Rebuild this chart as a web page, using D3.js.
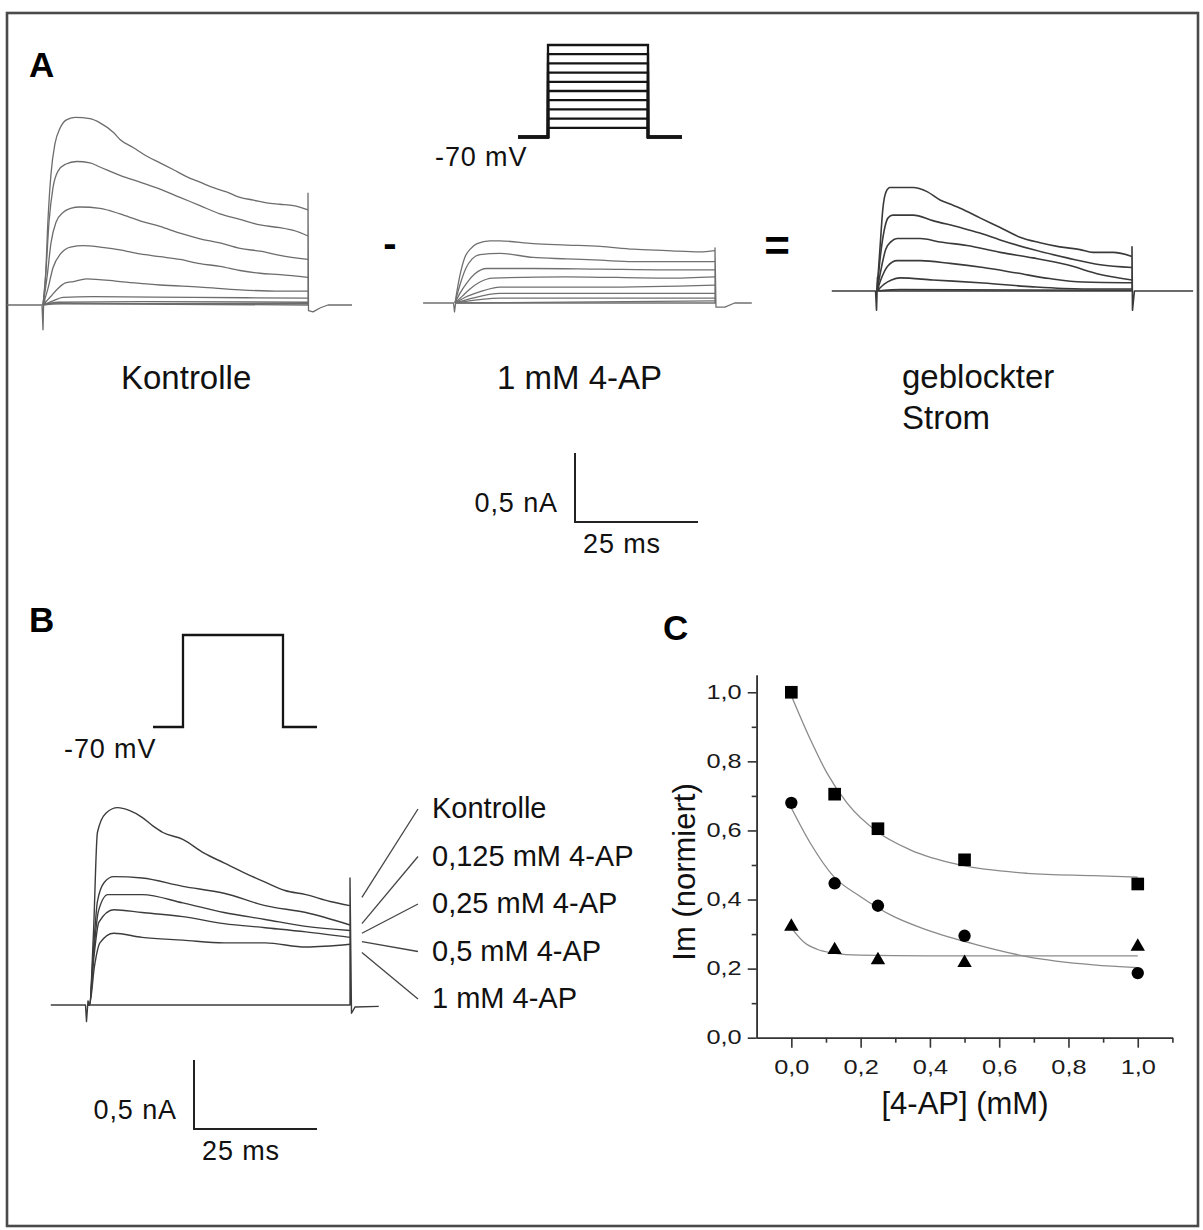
<!DOCTYPE html>
<html>
<head>
<meta charset="utf-8">
<script src="https://cdn.jsdelivr.net/npm/d3@7"></script>
<style>
    body { margin: 0; background: #fff; }
    text { font-family: 'Liberation Sans', Arial, Helvetica, sans-serif; }
</style>
</head>
<body>
<svg id="fig" width="1203" height="1230"></svg>
<script>
// Test pulse length and calibration (25 ms = 123 px, 0.5 nA = 69 px on the scale bars)
const PULSE = 53
const PX_MS = 4.92
const PX_NA = 138

// A, Kontrolle: current family, [ms, nA]
const ctrlA = [
    [[0,0],[0.5,0.2],[1,0.62],[1.6,0.95],[2.4,1.17],[3.4,1.28],[4.6,1.34],[6.4,1.36],[9.4,1.35],[11.4,1.32],[14.1,1.25],[15.4,1.2],[18.1,1.14],[20.7,1.08],[23.4,1.03],[26.1,0.98],[28.7,0.93],[31.4,0.89],[34.1,0.85],[36.7,0.82],[39.4,0.78],[42.1,0.76],[44.7,0.74],[47.4,0.73],[50.1,0.72],[53,0.69]],
    [[0,0],[0.6,0.25],[1.2,0.6],[2,0.85],[3,0.97],[4.5,1.02],[6.7,1.04],[9.4,1.03],[11.4,1.0],[15.4,0.94],[19.4,0.89],[23.4,0.84],[27.4,0.78],[31.4,0.72],[35.4,0.66],[39.4,0.62],[43.4,0.58],[47.4,0.56],[50.1,0.54],[53,0.5]],
    [[0,0],[0.8,0.2],[1.6,0.45],[2.6,0.6],[4,0.67],[5.5,0.7],[7.4,0.71],[11.4,0.7],[15.4,0.66],[19.4,0.61],[23.4,0.57],[27.4,0.52],[31.4,0.48],[35.4,0.45],[39.4,0.41],[43.4,0.39],[47.4,0.36],[53,0.33]],
    [[0,0],[1,0.12],[2,0.27],[3.5,0.37],[5.5,0.42],[8.1,0.43],[11.4,0.42],[15.4,0.4],[19.4,0.37],[23.4,0.35],[27.4,0.33],[31.4,0.3],[35.4,0.28],[39.4,0.25],[43.4,0.23],[47.4,0.22],[53,0.2]],
    [[0,0],[1.5,0.06],[3,0.12],[4.5,0.16],[6.1,0.17],[8.7,0.19],[15.4,0.17],[23.4,0.145],[31.4,0.13],[39.4,0.11],[47.4,0.1],[53,0.1]],
    [[0,0],[2,0.03],[4,0.055],[10,0.06],[30,0.055],[53,0.05]],
    [[0,0],[3,0.02],[20,0.025],[53,0.02]],
    [[0,0],[4,0.01],[53,0.01]]
]
const ctrlArtA = [[-7.2,0],[-0.2,0],[0,-0.18],[0.15,0.06],[0.5,0.01],[53,0],[53,0.81],[53.1,-0.04],[54,-0.05],[55.5,-0.02],[57,0],[61.8,0]]

// A, 1 mM 4-AP
const apA = [
    [[0,0],[1,0.2],[2,0.33],[3.1,0.39],[4.5,0.43],[7.1,0.45],[9.2,0.45],[15.9,0.43],[22.8,0.42],[29.6,0.41],[36.3,0.39],[43.2,0.38],[49.9,0.37],[53,0.38]],
    [[0,0],[1,0.13],[2.2,0.25],[3.5,0.32],[5.1,0.35],[9.2,0.36],[15.9,0.33],[22.8,0.32],[29.6,0.31],[36.3,0.3],[43.2,0.3],[53,0.3]],
    [[0,0],[1,0.07],[2.5,0.15],[4,0.21],[6.5,0.25],[15.9,0.25],[29.6,0.245],[43.2,0.24],[53,0.24]],
    [[0,0],[1.5,0.05],[3,0.1],[5,0.15],[7.7,0.18],[22.8,0.19],[43.2,0.18],[53,0.19]],
    [[0,0],[2,0.04],[5,0.08],[9.2,0.115],[29.6,0.115],[53,0.13]],
    [[0,0],[3,0.03],[9.2,0.07],[53,0.07]],
    [[0,0],[5,0.025],[9.2,0.036],[53,0.036]],
    [[0,0],[53,0.015]]
]
const apArtA = [[-6.5,0],[-0.3,0],[-0.1,-0.065],[0.2,0.02],[0.6,0],[53,0],[53,0.4],[53.2,-0.03],[55,-0.03],[57,0],[60.5,0]]

// A, geblockter Strom (difference)
const blockA = [
    [[0,0],[0.6,0.3],[1.2,0.59],[1.9,0.72],[2.7,0.75],[4.2,0.75],[7.5,0.75],[10.4,0.72],[13.1,0.66],[15.2,0.63],[17.3,0.6],[21.4,0.53],[25.6,0.46],[29.7,0.39],[33.9,0.35],[38,0.32],[42.2,0.3],[44.9,0.28],[49.1,0.28],[53,0.25]],
    [[0,0],[0.6,0.22],[1.5,0.44],[2.3,0.53],[3.3,0.55],[7.5,0.55],[11.6,0.51],[17.3,0.46],[21.4,0.42],[25.6,0.37],[32.4,0.3],[39.5,0.24],[46.4,0.19],[53,0.17]],
    [[0,0],[0.8,0.15],[1.8,0.3],[3,0.36],[4.2,0.38],[9,0.38],[13.1,0.355],[18.7,0.33],[25.6,0.28],[32.4,0.24],[39.5,0.19],[46.4,0.12],[53,0.08]],
    [[0,0],[1,0.1],[2.2,0.18],[4.2,0.22],[9,0.22],[15.2,0.2],[22.1,0.17],[29.1,0.13],[35.9,0.09],[42.8,0.065],[53,0.06]],
    [[0,0],[1.5,0.05],[3,0.08],[4.8,0.095],[11.6,0.08],[22.1,0.058],[32.4,0.03],[42.8,0.015],[53,0.015]],
    [[0,0],[5,0.01],[53,0.005]]
]
const blockArtA = [[-9.4,0],[-0.3,0],[-0.1,-0.14],[0.1,0.1],[0.4,0],[53,0],[53,0.32],[53.1,-0.14],[53.5,0],[65.7,0]]

// B, Kontrolle and increasing 4-AP
const ctrlB = [
    [[0,0],[0.5,0],[1.3,0.52],[2.1,1.25],[3.8,1.39],[6.2,1.43],[8.5,1.41],[11.1,1.36],[13.2,1.3],[15.3,1.25],[19.3,1.2],[23.6,1.1],[27.6,1.03],[31.6,0.96],[35.9,0.89],[39.9,0.83],[44.1,0.8],[49,0.75],[53,0.72]],
    [[0,0],[0.5,0],[1.3,0.4],[2.1,0.75],[3.5,0.89],[5.4,0.93],[11.1,0.92],[19.3,0.86],[27.6,0.81],[35.9,0.72],[44.1,0.67],[53,0.58]],
    [[0,0],[0.5,0],[1.4,0.4],[2.3,0.68],[4.2,0.8],[11.1,0.8],[19.3,0.74],[27.6,0.67],[35.9,0.62],[44.1,0.57],[53,0.54]],
    [[0,0],[0.5,0],[1.4,0.35],[2.4,0.6],[5.4,0.69],[11.1,0.67],[19.3,0.64],[27.6,0.59],[35.9,0.56],[44.1,0.53],[53,0.49]],
    [[0,0],[0.5,0],[1.5,0.28],[2.6,0.45],[5.4,0.52],[11.1,0.49],[19.3,0.47],[27.6,0.45],[35.9,0.45],[44.1,0.42],[53,0.44]]
]
const ctrlArtB = [[-7.3,0],[-0.3,0],[-0.1,-0.12],[0.2,0.03],[0.5,0],[53,0],[53,0.92],[53.3,-0.06],[54,-0.015],[58.8,-0.01]]
const labelsB = ['Kontrolle', '0,125 mM 4-AP', '0,25 mM 4-AP', '0,5 mM 4-AP', '1 mM 4-AP']
const leaderFromB = [0.78, 0.59, 0.52, 0.46, 0.38]

// Voltage protocols (mV), step 20 ms in the schematic
const HOLD_MV = -70
const stepsA = [-60, -50, -40, -30, -20, -10, 0, 10, 20, 30]
const stepsB = [30]
const protoT = [-6, 0, 20, 26.8]

// C, normalised current vs [4-AP]
const conc = [0, 0.125, 0.25, 0.5, 1.0]
const imSquare = [1.0, 0.705, 0.605, 0.515, 0.445]
const imCircle = [0.68, 0.447, 0.382, 0.295, 0.187]
const imTriangle = [0.322, 0.254, 0.225, 0.217, 0.264]
const fitSquare = [[0,0.99],[0.055,0.863],[0.103,0.766],[0.161,0.679],[0.247,0.597],[0.343,0.544],[0.487,0.5],[0.68,0.476],[0.872,0.469],[1.0,0.465]]
const fitCircle = [[0,0.665],[0.055,0.563],[0.122,0.467],[0.199,0.409],[0.295,0.351],[0.391,0.312],[0.536,0.269],[0.68,0.235],[0.872,0.211],[1.0,0.203]]
const fitTriangle = [[0,0.318],[0.035,0.278],[0.074,0.256],[0.122,0.245],[0.199,0.239],[0.391,0.237],[1.0,0.237]]
const xMajor = [0, 0.2, 0.4, 0.6, 0.8, 1.0]
const xMinor = [0.1, 0.3, 0.5, 0.7, 0.9, 1.1]
const yMajor = [0, 0.2, 0.4, 0.6, 0.8, 1.0]
const yMinor = [0.1, 0.3, 0.5, 0.7, 0.9]

const svg = d3.select('#fig')

svg.append('rect')
    .attr('x', 7).attr('y', 13).attr('width', 1191).attr('height', 1213)
    .attr('fill', 'none').attr('stroke', '#4a4a4a').attr('stroke-width', 2.6)

function label(txt, x, y, size, opts = {}) {
    return svg.append('text')
        .attr('x', x).attr('y', y)
        .attr('font-size', size)
        .attr('font-weight', opts.bold ? 'bold' : null)
        .attr('letter-spacing', opts.ls || null)
        .attr('text-anchor', opts.anchor || 'start')
        .attr('fill', opts.fill || '#111')
        .text(txt)
}

function drawTraces(traces, artifact, on, off, base, color, width) {
    let x = d3.scaleLinear().domain([0, PULSE]).range([on, off])
    let y = d3.scaleLinear().domain([0, 1]).range([base, base - PX_NA])
    let smooth = d3.line().x(d => x(d[0])).y(d => y(d[1])).curve(d3.curveMonotoneX)
    let sharp = d3.line().x(d => x(d[0])).y(d => y(d[1]))
    let g = svg.append('g')
        .attr('fill', 'none').attr('stroke', color).attr('stroke-width', width)
        .attr('stroke-linejoin', 'round')
    g.append('path').attr('d', sharp(artifact))
    g.selectAll('path.trace').data(traces).join('path')
        .attr('class', 'trace')
        .attr('d', smooth)
    return { x, y }
}

function drawProtocol(levels, on, hold) {
    let x = d3.scaleLinear().domain([0, protoT[2]]).range([on, on + 100])
    let y = d3.scaleLinear().domain([HOLD_MV, 30]).range([hold, hold - 92])
    let line = d3.line().x(d => x(d[0])).y(d => y(d[1]))
    svg.append('g')
        .attr('fill', 'none').attr('stroke', '#151515').attr('stroke-width', 2.3)
        .selectAll('path').data(levels).join('path')
        .attr('d', v => line([[protoT[0], HOLD_MV], [protoT[1], HOLD_MV], [protoT[1], v],
            [protoT[2], v], [protoT[2], HOLD_MV], [protoT[3], HOLD_MV]]))
}

function scaleBar(cx, cy) {
    let t = d3.scaleLinear().domain([0, 25]).range([cx, cx + 25 * PX_MS])
    let i = d3.scaleLinear().domain([0, 0.5]).range([cy, cy - 0.5 * PX_NA])
    svg.append('path')
        .attr('d', `M${t(0)},${i(0.5)}V${i(0)}H${t(25)}`)
        .attr('fill', 'none').attr('stroke', '#222').attr('stroke-width', 2)
    label('0,5 nA', cx - 17, cy - 10, 27, { ls: 0.9, anchor: 'end' })
    label('25 ms', cx + 8, cy + 31, 27, { ls: 0.9 })
}

// ---- Panel A
label('A', 29, 77, 35, { bold: true, fill: '#000' })
drawTraces(ctrlA, ctrlArtA, 43, 308, 305, '#6c6c6c', 1.3)
drawTraces(apA, apArtA, 455, 715, 303, '#707070', 1.3)
drawTraces(blockA, blockArtA, 877, 1132, 291, '#3a3a3a', 1.6)
drawProtocol(stepsA, 548, 137)
label('-70 mV', 435, 166, 27, { ls: 0.9 })
label('-', 390, 257, 40, { bold: true, anchor: 'middle', fill: '#000' })
label('=', 777, 261, 44, { bold: true, anchor: 'middle', fill: '#000' })
label('Kontrolle', 121, 389, 33)
label('1 mM 4-AP', 497, 389, 33)
label('geblockter', 902, 388, 33)
label('Strom', 902, 429, 33)
scaleBar(575, 522)

// ---- Panel B
label('B', 29, 632, 35, { bold: true, fill: '#000' })
drawProtocol(stepsB, 183, 727)
label('-70 mV', 64, 758, 27, { ls: 0.9 })
let sB = drawTraces(ctrlB, ctrlArtB, 87, 350, 1005, '#3c3c3c', 1.4)
labelsB.forEach((txt, k) => {
    let by = 818 + k * 47.5
    label(txt, 432, by, 29)
    svg.append('line')
        .attr('x1', sB.x(55.4)).attr('y1', sB.y(leaderFromB[k]))
        .attr('x2', 418).attr('y2', by - 9)
        .attr('stroke', '#444').attr('stroke-width', 1.3)
})
scaleBar(194, 1129)

// ---- Panel C
label('C', 663, 640, 35, { bold: true, fill: '#000' })
const x = d3.scaleLinear().domain([-0.1, 1.1]).range([756.7, 1172.4])
const y = d3.scaleLinear().domain([0, 1.05]).range([1037.7, 675])
const fmt = v => d3.format('.1f')(v).replace('.', ',')
const WIDE = 1.3   // tick labels are set in a stretched face

function styleAxis(g) {
    g.attr('font-family', null)
    g.select('.domain').attr('stroke', '#333').attr('stroke-width', 1.6)
    g.selectAll('.tick line').attr('stroke', '#333').attr('stroke-width', 1.6)
    g.selectAll('.tick text')
        .attr('fill', '#1a1a1a')
        .attr('font-size', 19.5)
        .attr('transform', `scale(${WIDE},1)`)
}

svg.append('g').attr('transform', `translate(0,${y(0)})`)
    .call(d3.axisBottom(x).tickValues(xMajor).tickSize(10).tickSizeOuter(0).tickPadding(12).tickFormat(fmt))
    .call(styleAxis)
svg.append('g').attr('transform', `translate(0,${y(0)})`)
    .call(d3.axisBottom(x).tickValues(xMinor).tickSize(5).tickSizeOuter(0).tickFormat(''))
    .call(styleAxis)
svg.append('g').attr('transform', `translate(${x(-0.1)},0)`)
    .call(d3.axisLeft(y).tickValues(yMajor).tickSize(9).tickSizeOuter(0).tickPadding(6).tickFormat(fmt))
    .call(styleAxis)
    .call(g => g.selectAll('.tick text').attr('x', -15 / WIDE))
svg.append('g').attr('transform', `translate(${x(-0.1)},0)`)
    .call(d3.axisLeft(y).tickValues(yMinor).tickSize(5).tickSizeOuter(0).tickFormat(''))
    .call(styleAxis)

label('[4-AP] (mM)', 965, 1114, 31, { anchor: 'middle' })
svg.append('text')
    .attr('transform', 'translate(695,872) rotate(-90)')
    .attr('text-anchor', 'middle').attr('font-size', 31).attr('fill', '#111')
    .text('Im (normiert)')

const series = [
    { vals: imSquare, fit: fitSquare, sym: d3.symbolSquare, size: 160 },
    { vals: imCircle, fit: fitCircle, sym: d3.symbolCircle, size: 120 },
    { vals: imTriangle, fit: fitTriangle, sym: d3.symbolTriangle, size: 90 }
]
const fitLine = d3.line().x(d => x(d[0])).y(d => y(d[1])).curve(d3.curveMonotoneX)

svg.append('g')
    .attr('fill', 'none').attr('stroke', '#8a8a8a').attr('stroke-width', 1.3)
    .selectAll('path').data(series).join('path')
    .attr('d', s => fitLine(s.fit))

series.forEach(s => {
    svg.append('g').selectAll('path')
        .data(s.vals.map((v, k) => [conc[k], v]))
        .join('path')
        .attr('transform', d => `translate(${x(d[0])},${y(d[1])})`)
        .attr('d', d3.symbol().type(s.sym).size(s.size))
        .attr('fill', '#000')
})
</script>
</body>
</html>
